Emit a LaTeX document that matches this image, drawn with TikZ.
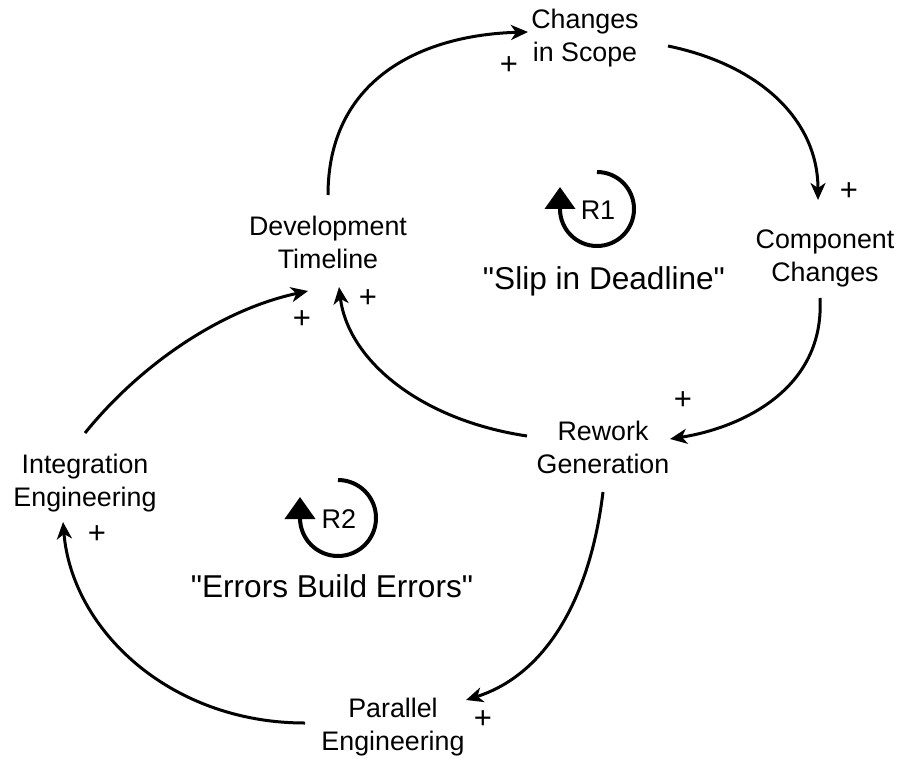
\documentclass[tikz,border=0pt]{standalone}
\usepackage{fontspec}
\setmainfont{Liberation Sans}[Ligatures=TeXOff]
\usetikzlibrary{arrows.meta}

\begin{document}
\begin{tikzpicture}[x=1pt,y=-1pt,
  var/.style={align=center, font=\fontsize{26.8}{33}\selectfont, inner sep=0pt},
  pol/.style={font=\fontsize{31}{34}\selectfont, inner sep=0pt},
  looptitle/.style={font=\fontsize{31.6}{36}\selectfont, inner sep=0pt, anchor=base},
  loopid/.style={font=\fontsize{27}{30}\selectfont, inner sep=0pt},
  link/.style={line width=3pt, -{Stealth[length=17pt,width=15pt,inset=5pt]}},
  loopmark/.style={line width=4pt, -{Triangle[length=22pt,width=30pt]}},
  ]
\useasboundingbox (0,0) rectangle (904,759);

% variables
\node[var] (scope)    at (585,38)  {\strut Changes\\\strut in Scope};
\node[var] (comp)     at (825,258) {\strut Component\\\strut Changes};
\node[var] (rework)   at (603,450) {\strut Rework\\\strut Generation};
\node[var] (parallel) at (393,727) {\strut Parallel\\\strut Engineering};
\node[var] (integ)    at (85,483)  {\strut Integration\\\strut Engineering};
\node[var] (dev)      at (328,245) {\strut Development\\\strut Timeline};

% causal links
\draw[link] ([shift={(0,-50)}]dev.center) .. controls (328,80) and (420,35) .. ([shift={(-57,-6)}]scope.center);
\draw[link] ([shift={(83,8)}]scope.center) .. controls (760,65) and (818,120) .. ([shift={(-7,-58)}]comp.center);
\draw[link] ([shift={(-5,40)}]comp.center) .. controls (825,390) and (740,428) .. ([shift={(67,-11)}]rework.center);
\draw[link] ([shift={(-76,-14)}]rework.center) .. controls (420,420) and (348,360) .. ([shift={(11,42)}]dev.center);
\draw[link] ([shift={(0,-50)}]integ.center) .. controls (140,365) and (220,310) .. ([shift={(-20,46)}]dev.center);
\draw[link] ([shift={(0,42)}]rework.center) .. controls (590,600) and (545,675) .. ([shift={(73,-27)}]parallel.center);
\draw[link] ([shift={(-88,-4)}]parallel.center) .. controls (170,723) and (72,630) .. ([shift={(-22,39)}]integ.center);

% polarities
\node[pol] (p1) at (509,66)  {+};
\node[pol] (p2) at (849,192) {+};
\node[pol] (p3) at (683,401) {+};
\node[pol] (p4) at (368,299) {+};
\node[pol] (p5) at (302,320) {+};
\node[pol] (p6) at (483,720) {+};
\node[pol] (p7) at (97,535)  {+};

% loop markers
\draw[loopmark] (597,172) arc[start angle=-90, end angle=180, radius=37] -- ++(0,-22);
\node[loopid] (r1) at (598,210) {R1};
\draw[loopmark] (338,480) arc[start angle=-90, end angle=180, radius=38] -- ++(0,-21);
\node[loopid] (r2) at (339,519) {R2};

\node[looptitle] (t1) at (604,289) {"Slip in Deadline"};
\node[looptitle] (t2) at (332,597) {"Errors Build Errors"};
\end{tikzpicture}
\end{document}
